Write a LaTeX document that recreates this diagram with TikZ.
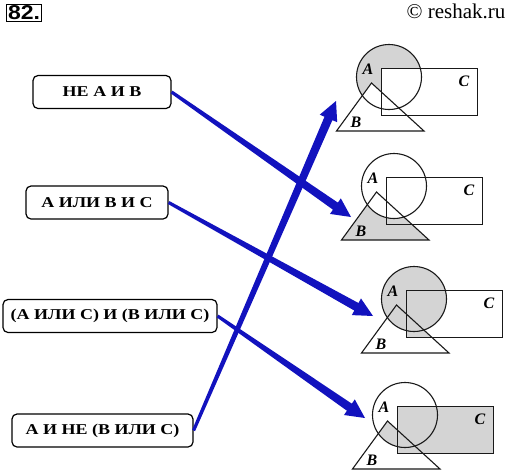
\documentclass[tikz,border=0pt]{standalone}
\usepackage{fontspec}
\setmainfont{Liberation Serif}
\newfontfamily\numfont[FakeStretch=1.15]{Liberation Sans}
\newfontfamily\boxfont[FakeStretch=1.2]{Liberation Serif}
\usetikzlibrary{calc}

\definecolor{arrowblue}{RGB}{18,18,190}
\definecolor{setgray}{RGB}{212,212,212}

\tikzset{
  exprbox/.style = {draw, line width = 1.2pt, rounded corners = 5pt,
                    minimum height = 33pt, inner xsep = 2pt,
                    font = \boxfont\fontsize{15}{17}\selectfont\bfseries},
  setline/.style = {line width = 1.1pt, draw = black!90},
  setlabel/.style = {font = \fontsize{16}{18}\selectfont\bfseries\itshape}
}

% shapes of one picture, circle A at (0,0)
\def\setA{(0,0) circle (32.5)}
\def\setB{(-17.5,6) -- (-52.5,54) -- (35,54) -- cycle}
\def\setC{(-7.8,-8.5) rectangle (88.5,38.5)}

\newcommand\setoutline{%
  \draw [setline] \setA;
  \draw [setline] \setC;
  \draw [setline, line join = miter] \setB;
  \node [setlabel] at (-21,-8) {A};
  \node [setlabel] at (75,4.5) {C};
  \node [setlabel] at (-33,45) {B};
}

% thin at the start, wide at the head
\newcommand\taperarrow[2]{%
  \coordinate (hb) at ($(#2)!19pt!(#1)$);
  \fill [arrowblue]
    ($(#1)!1.6pt!90:(#2)$) -- ($(hb)!4.3pt!90:(#2)$) --
    ($(hb)!9.5pt!90:(#2)$) -- (#2) -- ($(hb)!9.5pt!-90:(#2)$) --
    ($(hb)!4.3pt!-90:(#2)$) -- ($(#1)!1.6pt!-90:(#2)$) -- cycle;
}

\begin{document}
\begin{tikzpicture}[x = 1pt, y = -1pt]
  \useasboundingbox (0,0) rectangle (510,474);

  \node (num) [draw, line width = 1.3pt, inner sep = 1.5pt,
               font = \numfont\fontsize{20}{21}\selectfont\bfseries]
    at (24,13) {82.};
  \node (site) [anchor = east, font = \fontsize{21}{22}\selectfont]
    at (509,11) {\textcopyright{} reshak.ru};

  \node (b1) [exprbox, minimum width = 138pt] at (102,92)  {НЕ А И В};
  \node (b2) [exprbox, minimum width = 142pt] at (97,202.5) {А ИЛИ В И С};
  \node (b3) [exprbox, minimum width = 214pt] at (110,316) {(А ИЛИ С) И (В ИЛИ С)};
  \node (b4) [exprbox, minimum width = 181pt] at (102.5,430.5) {А И НЕ (В ИЛИ С)};

  % A and not (B or C)
  \begin{scope}[shift = {(389,77)}]
    \fill [setgray] \setA;
    \fill [white] \setC;
    \fill [white] \setB;
    \setoutline
  \end{scope}
  % B and not A
  \begin{scope}[shift = {(394,186)}]
    \fill [setgray] \setB;
    \fill [white] \setA;
    \setoutline
  \end{scope}
  % A or (B and C)
  \begin{scope}[shift = {(414,299)}]
    \fill [setgray] \setA;
    \begin{scope}
      \clip \setC;
      \fill [setgray] \setB;
    \end{scope}
    \setoutline
  \end{scope}
  % C or (A and B)
  \begin{scope}[shift = {(405,415)}]
    \fill [setgray] \setC;
    \begin{scope}
      \clip \setA;
      \fill [setgray] \setB;
    \end{scope}
    \setoutline
  \end{scope}

  \coordinate (t1) at (336,101);
  \coordinate (t2) at (351,217);
  \coordinate (t3) at (373,316);
  \coordinate (t4) at (365,418);

  \taperarrow{b1.east}{t2}
  \taperarrow{b2.east}{t3}
  \taperarrow{b3.east}{t4}
  \taperarrow{b4.east}{t1}
\end{tikzpicture}
\end{document}
